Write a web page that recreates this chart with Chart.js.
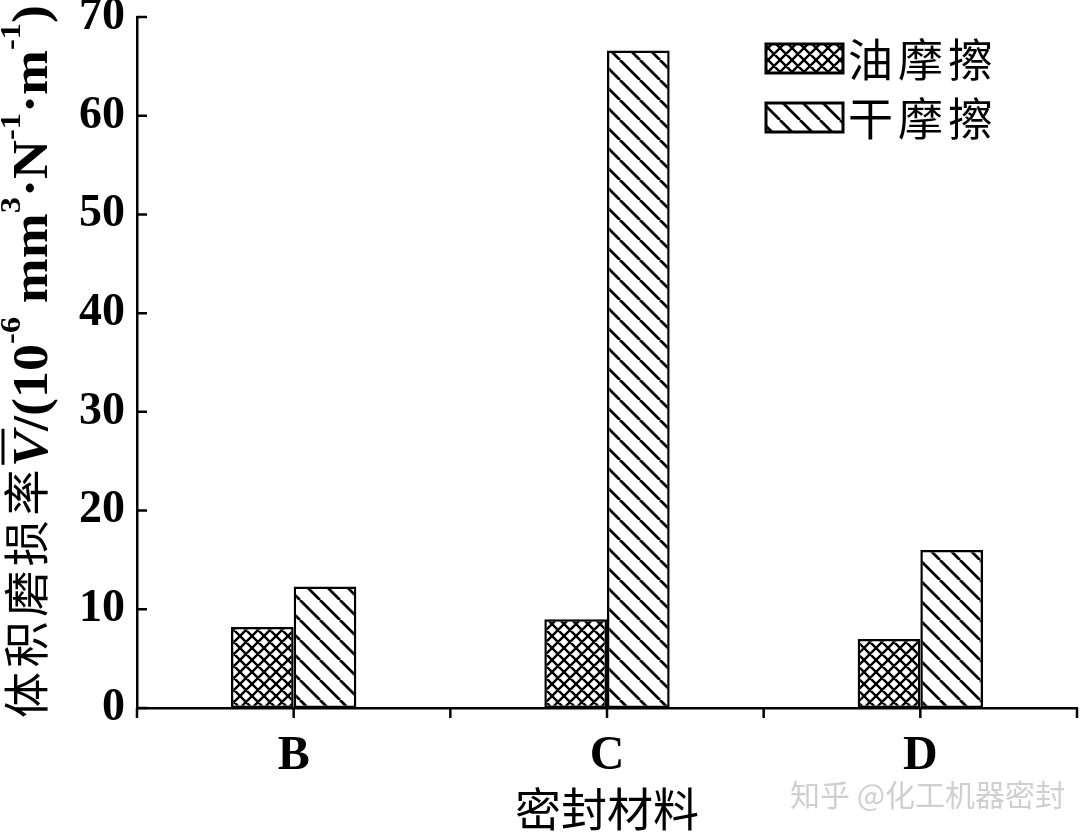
<!DOCTYPE html>
<html>
<head>
<meta charset="utf-8">
<script src="https://cdn.jsdelivr.net/npm/chart.js@4.4.1/dist/chart.umd.min.js"></script>
<style>
  html, body { margin: 0; padding: 0; background: #fff; }
  #wrap { width: 1080px; height: 836px; }
</style>
</head>
<body>
<div id="wrap"><canvas id="wearChart" width="1080" height="836"></canvas></div>
<script>
// data
const materials = ['B', 'C', 'D'];
const oilWear = [8.2, 9.0, 7.0];
const dryWear = [12.3, 66.6, 16.0];
const seriesNames = ['油摩擦', '干摩擦'];
const yTickValues = [0, 10, 20, 30, 40, 50, 60, 70];
const xTitle = '密封材料';
const watermark = '知乎 @化工机器密封';

const SERIF = '"Liberation Serif", "Times New Roman", serif';
const CJK = '"Noto Sans CJK SC", sans-serif';

// hatch fills
function hatch(kind) {
    const s = kind === 'cross' ? 12 : 20;
    const c = document.createElement('canvas');
    c.width = s; c.height = s;
    const g = c.getContext('2d');
    g.fillStyle = '#fff';
    g.fillRect(0, 0, s, s);
    g.strokeStyle = '#000';
    g.lineWidth = kind === 'cross' ? 2.4 : 2.8;
    g.beginPath();
    for (const o of [-s, 0, s]) {
        g.moveTo(o, 0); g.lineTo(o + s, s);          // "\"
        if (kind === 'cross') { g.moveTo(o, s); g.lineTo(o + s, 0); } // "/"
    }
    g.stroke();
    return g.createPattern(c, 'repeat');
}
const ctxMain = document.getElementById('wearChart').getContext('2d');
const crossFill = hatch('cross');
const diagFill = hatch('diag');

// y axis title with superscripts, drawn rotated
const yTitleLatin = [
    {t: 'V', font: 'italic bold 50px ' + SERIF, bar: true},
    {t: '/(10', font: 'bold 50px ' + SERIF},
    {t: '-6', font: 'bold 30px ' + SERIF, sup: true},
    {t: ' mm', font: 'bold 50px ' + SERIF},
    {t: '3', font: 'bold 30px ' + SERIF, sup: true},
    {t: '·N', font: 'bold 50px ' + SERIF},
    {t: '-1', font: 'bold 30px ' + SERIF, sup: true},
    {t: '·m', font: 'bold 50px ' + SERIF},
    {t: '-1', font: 'bold 30px ' + SERIF, sup: true},
    {t: ')', font: 'bold 50px ' + SERIF}
];
const yTitlePlugin = {
    id: 'yTitle',
    afterDraw(chart) {
        const ctx = chart.ctx;
        ctx.save();
        ctx.translate(47, 720);
        ctx.rotate(-Math.PI / 2);
        ctx.fillStyle = '#000';
        ctx.textBaseline = 'alphabetic';
        // chinese part
        ctx.font = '46px ' + CJK;
        [...'体积磨损率'].forEach((ch, k) => ctx.fillText(ch, k * 50.6 + 2, -4));
        // latin part, fitted to its span
        let w = 0;
        yTitleLatin.forEach(p => { ctx.font = p.font; w += ctx.measureText(p.t).width; });
        ctx.translate(253, 0);
        ctx.scale(462 / w, 1);
        let x = 0;
        yTitleLatin.forEach(p => {
            ctx.font = p.font;
            const pw = ctx.measureText(p.t).width;
            ctx.fillText(p.t, x, p.sup ? -27 : 0);
            if (p.bar) {
                ctx.lineWidth = 3;
                ctx.beginPath();
                ctx.moveTo(x + 2, -44); ctx.lineTo(x + pw + 2, -44);
                ctx.stroke();
            }
            x += pw;
        });
        ctx.restore();
    }
};

// tick marks: inward on y, outward on x (centres and boundaries)
const tickPlugin = {
    id: 'tickMarks',
    afterDraw(chart) {
        const ctx = chart.ctx;
        const xs = chart.scales.x, ys = chart.scales.y;
        ctx.save();
        ctx.strokeStyle = '#000';
        ctx.lineWidth = 2.5;
        ctx.beginPath();
        yTickValues.forEach(v => {
            const y = ys.getPixelForValue(v);
            ctx.moveTo(xs.left, y); ctx.lineTo(xs.left + 10, y);
        });
        for (let i = -0.5; i <= materials.length - 0.5; i += 0.5) {
            const x = xs.getPixelForValue(i);
            ctx.moveTo(x, ys.bottom); ctx.lineTo(x, ys.bottom + 10);
        }
        ctx.stroke();
        ctx.restore();
    }
};

// legend with hatch boxes, top right
const legendPlugin = {
    id: 'hatchLegend',
    afterDraw(chart) {
        const ctx = chart.ctx;
        chart.data.datasets.forEach((ds, i) => {
            const x = 766, y = 44 + i * 59, w = 77, h = 29;
            ctx.save();
            ctx.fillStyle = ds.backgroundColor;
            ctx.fillRect(x, y, w, h);
            ctx.lineWidth = 3;
            ctx.strokeStyle = '#000';
            ctx.strokeRect(x, y, w, h);
            ctx.fillStyle = '#000';
            ctx.font = '45px ' + CJK;
            ctx.textBaseline = 'middle';
            [...ds.label].forEach((ch, k) => ctx.fillText(ch, 848 + k * 50, y + h / 2 + 1));
            ctx.restore();
        });
        // faint watermark
        ctx.save();
        ctx.font = '30px ' + CJK;
        ctx.fillStyle = 'rgba(175,175,175,0.6)';
        ctx.textBaseline = 'middle';
        ctx.fillText(watermark, 790, 795);
        ctx.restore();
    }
};

new Chart(ctxMain, {
    type: 'bar',
    data: {
        labels: materials,
        datasets: [{
            label: seriesNames[0],
            data: oilWear,
            backgroundColor: crossFill,
            borderColor: '#000',
            borderWidth: 2.5,
            borderSkipped: false
        }, {
            label: seriesNames[1],
            data: dryWear,
            backgroundColor: diagFill,
            borderColor: '#000',
            borderWidth: 2.5,
            borderSkipped: false
        }]
    },
    options: {
        responsive: false,
        animation: false,
        events: [],
        categoryPercentage: 0.4,
        barPercentage: 1.0,
        layout: { padding: { top: 17, right: 3, left: 0, bottom: 0 } },
        plugins: {
            legend: { display: false },
            tooltip: { enabled: false }
        },
        scales: {
            x: {
                grid: { display: false, drawTicks: false },
                border: { display: true, color: '#000', width: 2.5 },
                ticks: {
                    color: '#000',
                    font: { family: SERIF, size: 48, weight: 'bold' },
                    padding: 20
                },
                title: {
                    display: true,
                    text: xTitle,
                    color: '#000',
                    font: { family: CJK, size: 46 },
                    padding: { top: 0, bottom: 0 }
                },
                afterFit(scale) {
                    scale.height = 128;
                    scale.paddingLeft = 0;
                    scale.paddingRight = 0;
                }
            },
            y: {
                min: 0,
                max: 70,
                grid: { display: false, drawTicks: false },
                border: { display: true, color: '#000', width: 2.5 },
                afterBuildTicks(scale) { scale.ticks = yTickValues.map(v => ({ value: v })); },
                ticks: {
                    color: '#000',
                    font: { family: SERIF, size: 46, weight: 'bold' },
                    padding: 12
                },
                afterFit(scale) {
                    scale.width = 137;
                    scale.paddingTop = 0;
                    scale.paddingBottom = 0;
                }
            }
        }
    },
    plugins: [tickPlugin, legendPlugin, yTitlePlugin]
});
</script>
</body>
</html>
